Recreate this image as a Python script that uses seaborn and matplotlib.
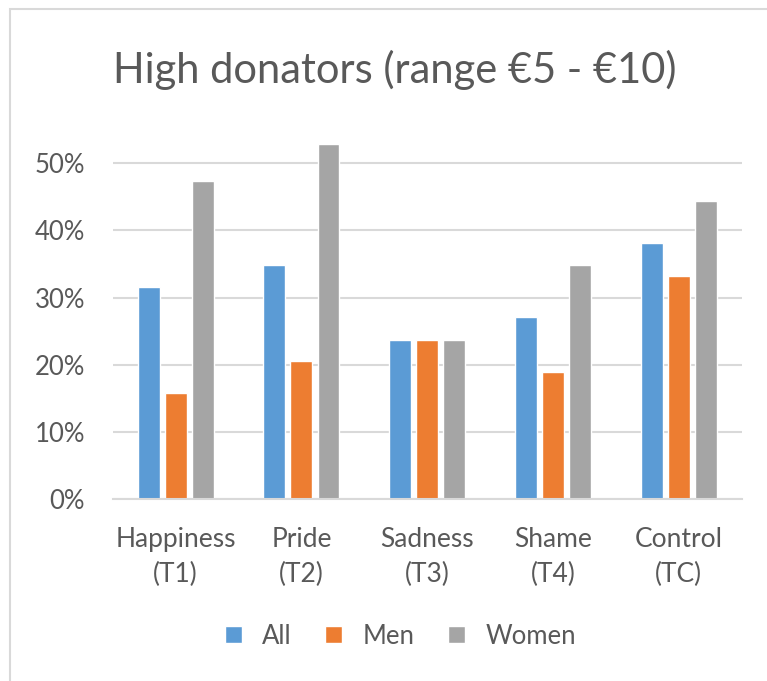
import matplotlib
matplotlib.use("Agg")
import matplotlib.pyplot as plt
import seaborn as sns
import pandas as pd
from matplotlib.ticker import PercentFormatter
from matplotlib.patches import Rectangle

categories = ["Happiness\n(T1)", "Pride\n(T2)", "Sadness\n(T3)", "Shame\n(T4)", "Control\n(TC)"]
series = ["All", "Men", "Women"]
all_vals = [0.316, 0.348, 0.237, 0.271, 0.381]
men_vals = [0.158, 0.206, 0.237, 0.190, 0.333]
women_vals = [0.474, 0.528, 0.237, 0.348, 0.444]
colors = ["#5B9BD5", "#ED7D31", "#A5A5A5"]
yticks = [0, 0.1, 0.2, 0.3, 0.4, 0.5]

rows = []
for s, vals in zip(series, [all_vals, men_vals, women_vals]):
    for c, v in zip(categories, vals):
        rows.append({"cat": c, "series": s, "value": v})
df = pd.DataFrame(rows)

sns.set_theme(style="white")
plt.rcParams["font.family"] = ["Lato", "DejaVu Sans"]
text_color = "#595959"

fig = plt.figure(figsize=(7.67, 6.81), dpi=100)
ax = fig.add_axes([0.147, 0.2668, 0.82, 0.5428])

sns.barplot(data=df, x="cat", y="value", hue="series", palette=colors,
            order=categories, hue_order=series, width=0.645, gap=0.19,
            ax=ax, saturation=1, legend=True)

ax.set_ylim(0, 0.55)
ax.set_xlim(-0.5, 4.5)
ax.set_yticks(yticks)
ax.yaxis.set_major_formatter(PercentFormatter(1.0, decimals=0))
ax.grid(axis="y", color="#D9D9D9", linewidth=1.5)
ax.set_axisbelow(True)
for side in ["top", "right", "left"]:
    ax.spines[side].set_visible(False)
ax.spines["bottom"].set_color("#D9D9D9")
ax.spines["bottom"].set_linewidth(1.5)
ax.set_xlabel("")
ax.set_ylabel("")
ax.tick_params(axis="y", length=0, labelsize=18.5, labelcolor=text_color, pad=20)
ax.tick_params(axis="x", length=0, labelsize=19, labelcolor=text_color, pad=20)
for lbl in ax.get_xticklabels():
    lbl.set_linespacing(1.5)

handles, labels = ax.get_legend_handles_labels()
ax.legend_.remove()
fig.legend(handles, labels, loc="center", bbox_to_anchor=(0.522, 0.066),
           ncol=3, frameon=False, fontsize=18.5, labelcolor=text_color,
           handlelength=0.65, handleheight=0.65, handletextpad=0.8,
           columnspacing=1.3)

fig.text(0.515, 0.897, "High donators (range €5 - €10)", ha="center", va="center",
         fontsize=30, color=text_color)

fig.patches.append(Rectangle((0.013, -0.05), 1.2, 1.037, transform=fig.transFigure,
                             fill=False, edgecolor="#D9D9D9", linewidth=1.5))

fig.savefig("out.png", dpi=100)
